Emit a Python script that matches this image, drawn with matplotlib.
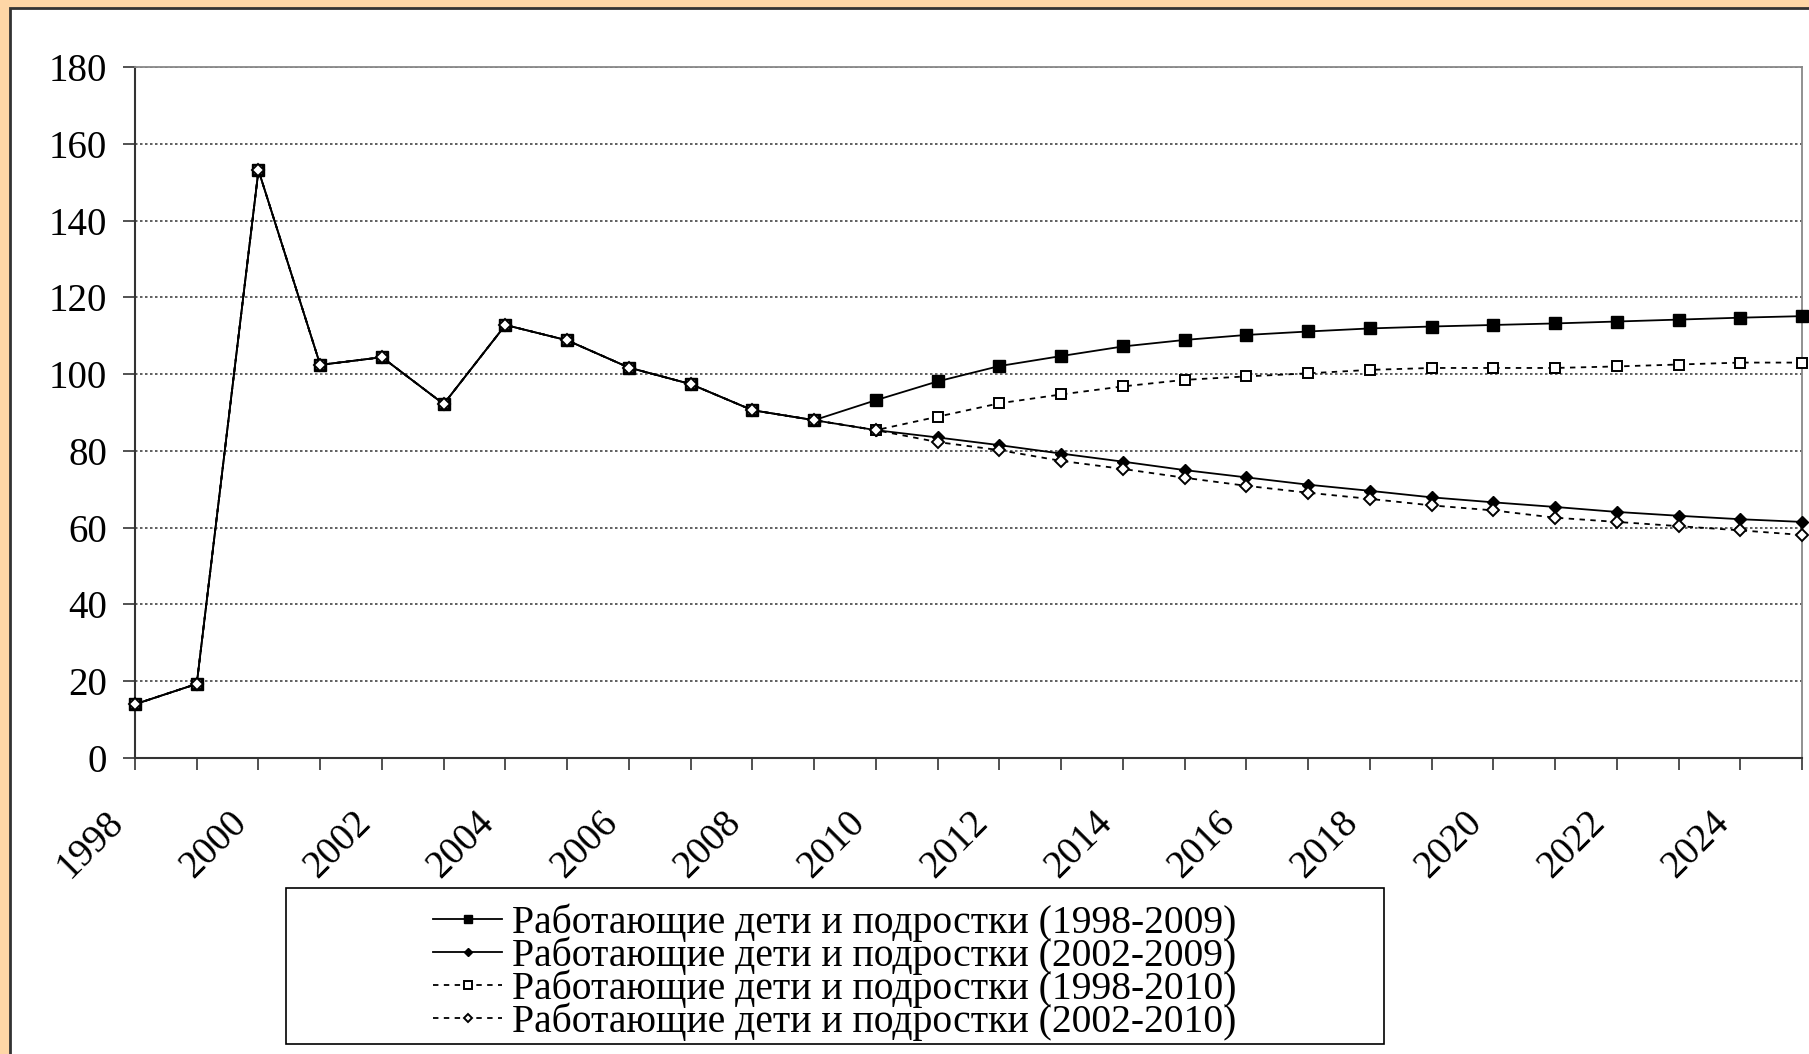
import matplotlib
matplotlib.use("Agg")
import matplotlib.pyplot as plt
from matplotlib.patches import Rectangle
from matplotlib.transforms import ScaledTranslation

years = list(range(1998, 2026))

# Работающие дети и подростки, тыс. чел. (факт до 2009/2010, далее прогноз)
working_1998_2009 = [14.0, 19.3, 153.1, 102.4, 104.4, 92.2, 112.8, 108.8, 101.7, 97.4, 90.6, 88.0,
                     93.2, 98.1, 102.1, 104.7, 107.2, 108.9, 110.2, 111.1, 111.9, 112.4, 112.8,
                     113.2, 113.7, 114.2, 114.7, 115.1]
working_2002_2009 = [14.0, 19.3, 153.1, 102.4, 104.4, 92.2, 112.8, 108.8, 101.7, 97.4, 90.6, 88.0,
                     85.4, 83.5, 81.5, 79.3, 77.2, 75.0, 73.1, 71.2, 69.6, 67.9, 66.6,
                     65.4, 64.1, 63.1, 62.2, 61.5]
working_1998_2010 = [14.0, 19.3, 153.1, 102.4, 104.4, 92.2, 112.8, 108.8, 101.7, 97.4, 90.6, 88.0,
                     85.4, 88.9, 92.4, 94.7, 96.8, 98.5, 99.4, 100.2, 101.1, 101.6, 101.6,
                     101.6, 102.0, 102.5, 103.0, 103.0]
working_2002_2010 = [14.0, 19.3, 153.1, 102.4, 104.4, 92.2, 112.8, 108.8, 101.7, 97.4, 90.6, 88.0,
                     85.4, 82.3, 80.2, 77.4, 75.3, 73.0, 70.9, 69.1, 67.5, 65.8, 64.5,
                     62.6, 61.5, 60.4, 59.3, 58.1]

series_labels = [
    "Работающие дети и подростки (1998-2009)",
    "Работающие дети и подростки (2002-2009)",
    "Работающие дети и подростки (1998-2010)",
    "Работающие дети и подростки (2002-2010)",
]

plt.rcParams['font.family'] = ['Liberation Serif', 'DejaVu Serif']

W, H = 1809, 1054
fig = plt.figure(figsize=(W / 100, H / 100), dpi=100, facecolor='#fed6a6')

# white chart panel with dark border
fig.patches.append(Rectangle((10 / W, -0.01), 1.0, 1 - 8 / H + 0.01,
                             transform=fig.transFigure, facecolor='white',
                             edgecolor='#333333', lw=2, zorder=-10))

ax = fig.add_axes([135 / W, 1 - 758 / H, (1802 - 135) / W, (758 - 67) / H])
ax.set_zorder(2)
ax.set_facecolor('white')

dash = (0, (3, 3))
lines = []
lines += ax.plot(years, working_1998_2009, color='black', lw=1.3, marker='s', ms=8,
                 mfc='black', mec='black', clip_on=False, zorder=3)
lines += ax.plot(years, working_2002_2009, color='black', lw=1.3, marker='D', ms=6,
                 mfc='black', mec='black', clip_on=False, zorder=4)
lines += ax.plot(years, working_1998_2010, color='black', lw=1.3, ls=dash, marker='s', ms=7.6,
                 mfc='white', mec='black', mew=1.4, clip_on=False, zorder=5)
lines += ax.plot(years, working_2002_2010, color='black', lw=1.3, ls=dash, marker='D', ms=6,
                 mfc='white', mec='black', mew=1.4, clip_on=False, zorder=6)

ax.set_xlim(1998, 2025)
ax.set_ylim(0, 180)
ax.set_yticks(range(0, 181, 20))
ax.set_xticks(years)
xlabels = ax.set_xticklabels([str(y) if y % 2 == 0 else '' for y in years])

ax.grid(axis='y', color='#444444', lw=1.2, ls=(0, (1.5, 1.5)))
ax.set_axisbelow(True)

for s in ['left', 'bottom']:
    ax.spines[s].set_color('#333333')
    ax.spines[s].set_linewidth(1.5)
for s in ['top', 'right']:
    ax.spines[s].set_color('#888888')
    ax.spines[s].set_linewidth(1.3)

ax.tick_params(axis='y', length=8.6, width=1.2, color='#333333', pad=11.5, labelsize=28)
ax.tick_params(axis='x', length=8.6, width=1.2, color='#333333', pad=39, labelsize=28)

shift = ScaledTranslation(-10 / 100, 0, fig.dpi_scale_trans)
for lbl in xlabels:
    lbl.set_rotation(45)
    lbl.set_ha('right')
    lbl.set_va('baseline')
    lbl.set_rotation_mode('anchor')
    lbl.set_transform(lbl.get_transform() + shift)

# legend box
bx0, bx1, by0, by1 = 286, 1384, 888, 1044
fig.patches.append(Rectangle((bx0 / W, 1 - by1 / H), (bx1 - bx0) / W, (by1 - by0) / H,
                             transform=fig.transFigure, facecolor='white',
                             edgecolor='black', lw=1.2, zorder=1))
leg = fig.legend(lines, series_labels, loc='center',
                 bbox_to_anchor=((bx0 + bx1) / 2 / W, 1 - (by0 + by1 + 12) / 2 / H),
                 frameon=False, fontsize=28.5, labelspacing=-0.14, handlelength=1.75,
                 handletextpad=0.25, borderpad=0, markerscale=0.75)
leg.set_zorder(5)

fig.savefig('out.png', dpi=100, facecolor=fig.get_facecolor())
